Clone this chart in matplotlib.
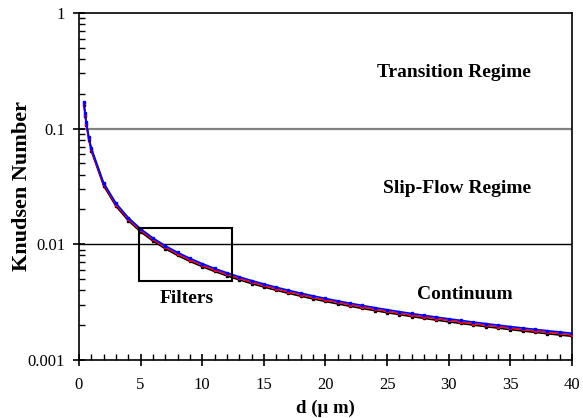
import numpy as np
import matplotlib as mpl
mpl.use("Agg")
import matplotlib.pyplot as plt
from matplotlib.patches import Rectangle
from matplotlib.ticker import FixedLocator, FixedFormatter, MultipleLocator

mpl.rcParams.update({"font.family": "serif", "font.serif": ["Liberation Serif", "DejaVu Serif"]})

# particle diameter (um) and Knudsen number for the three curves
d = [0.4, 0.5, 0.6, 0.8, 1, 2, 3, 4, 5, 6, 7, 8, 9, 10, 11, 12, 13, 14, 15, 16, 17, 18, 19, 20,
     21, 22, 23, 24, 25, 26, 27, 28, 29, 30, 31, 32, 33, 34, 35, 36, 37, 38, 39, 40]
kn_black = [0.16, 0.128, 0.1067, 0.08, 0.064, 0.032, 0.02133, 0.016, 0.0128, 0.01067, 0.009143,
            0.008, 0.007111, 0.0064, 0.005818, 0.005333, 0.004923, 0.004571, 0.004267, 0.004,
            0.003765, 0.003556, 0.003368, 0.0032, 0.003048, 0.002909, 0.002783, 0.002667, 0.00256,
            0.002462, 0.00237, 0.002286, 0.002207, 0.002133, 0.002065, 0.002, 0.001939, 0.001882,
            0.001829, 0.001778, 0.00173, 0.001684, 0.001641, 0.0016]
kn_red = [0.165, 0.132, 0.11, 0.0825, 0.066, 0.033, 0.022, 0.0165, 0.0132, 0.011, 0.009429,
          0.00825, 0.007333, 0.0066, 0.006, 0.0055, 0.005077, 0.004714, 0.0044, 0.004125,
          0.003882, 0.003667, 0.003474, 0.0033, 0.003143, 0.003, 0.00287, 0.00275, 0.00264,
          0.002538, 0.002444, 0.002357, 0.002276, 0.0022, 0.002129, 0.002063, 0.002, 0.001941,
          0.001886, 0.001833, 0.001784, 0.001737, 0.001692, 0.00165]
kn_blue = [0.17, 0.136, 0.1133, 0.085, 0.068, 0.034, 0.02267, 0.017, 0.0136, 0.01133, 0.009714,
           0.0085, 0.007556, 0.0068, 0.006182, 0.005667, 0.005231, 0.004857, 0.004533, 0.00425,
           0.004, 0.003778, 0.003579, 0.0034, 0.003238, 0.003091, 0.002957, 0.002833, 0.00272,
           0.002615, 0.002519, 0.002429, 0.002345, 0.002267, 0.002194, 0.002125, 0.002061, 0.002,
           0.001943, 0.001889, 0.001838, 0.001789, 0.001744, 0.0017]
filter_d = [4.9, 12.4]
filter_kn = [0.0048, 0.0137]
labels = [("Transition Regime", 30.4, 0.28), ("Slip-Flow Regime", 30.7, 0.0278),
          ("Continuum", 31.3, 0.00337), ("Filters", 8.7, 0.00311)]

fig = plt.figure(figsize=(5.83, 4.18), dpi=100)
ax = fig.add_axes([0.1355, 0.139, 0.8455, 0.830])
ax.set_yscale("log")

ax.axhline(0.1, color="#808080", lw=1.6, zorder=1)
ax.axhline(0.01, color="black", lw=1.0, zorder=1)

for y, c in [(kn_black, "black"), (kn_red, "red"), (kn_blue, "blue")]:
    ax.plot(d, y, color=c, lw=1.2, marker="s", ms=1.8, mec=c, mfc=c, zorder=3)

ax.add_patch(Rectangle((filter_d[0], filter_kn[0]), filter_d[1] - filter_d[0], filter_kn[1] - filter_kn[0],
                       fill=False, ec="black", lw=1.5, zorder=4))
for t, x, y in labels:
    ax.text(x, y, t, ha="center", va="baseline", fontsize=14, fontweight="bold")

ax.set_xlim(0, 40)
ax.set_ylim(0.001, 1)
ax.xaxis.set_major_locator(MultipleLocator(5))
ax.xaxis.set_minor_locator(MultipleLocator(1))
ax.yaxis.set_major_locator(FixedLocator([0.001, 0.01, 0.1, 1]))
ax.yaxis.set_major_formatter(FixedFormatter(["0.001", "0.01", "0.1", "1"]))
ax.yaxis.set_minor_locator(FixedLocator([m * 10.0 ** e for e in (-3, -2, -1) for m in range(2, 10)]))
ax.yaxis.set_minor_formatter(FixedFormatter([]))
ax.tick_params(which="major", direction="inout", length=8, width=1.2, labelsize=12, pad=6)
ax.tick_params(which="minor", direction="in", length=4, width=1.0)
ax.tick_params(axis="x", which="major", pad=8)
for s in ax.spines.values():
    s.set_linewidth(1.2)

ax.set_xlabel("d (\u03bc m)", fontsize=13.5, fontweight="bold", labelpad=5)
ax.set_ylabel("Knudsen Number", fontsize=16, fontweight="bold", labelpad=-3)

fig.savefig("out.png", dpi=100)
